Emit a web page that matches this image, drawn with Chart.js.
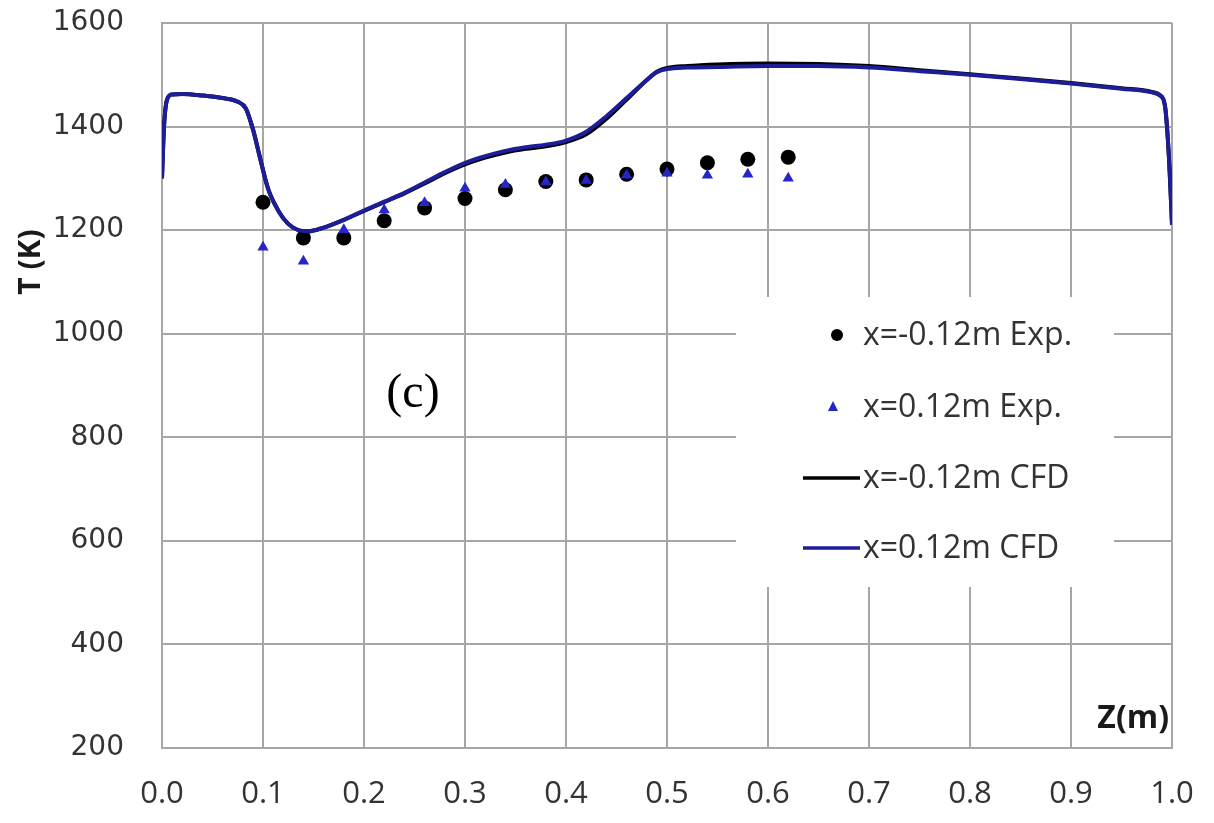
<!DOCTYPE html>
<html>
<head>
<meta charset="utf-8">
<script src="https://cdn.jsdelivr.net/npm/chart.js@4/dist/chart.umd.min.js"></script>
<style>
html,body{margin:0;padding:0;background:#fff;}
#wrap{width:1214px;height:823px;}
</style>
</head>
<body>
<div id="wrap"><canvas id="c" width="1214" height="823"></canvas></div>
<script>
// Experimental data
const expZ = [0.10,0.14,0.18,0.22,0.26,0.30,0.34,0.38,0.42,0.46,0.50,0.54,0.58,0.62];
const expNeg = [1254,1185,1185,1218,1243,1261,1278,1294,1297,1308,1318,1330,1337,1341];
const expPos = [1167,1140,1201,1239,1253,1281,1288,1293,1296,1306,1310,1306,1308,1300];

// CFD curves
const cfdZ = [0.000,0.002,0.005,0.010,0.020,0.040,0.060,0.075,0.083,0.090,0.097,0.105,0.115,0.125,0.135,0.145,0.160,0.180,0.200,0.220,0.240,0.260,0.280,0.300,0.320,0.340,0.360,0.380,0.400,0.420,0.440,0.460,0.480,0.490,0.500,0.520,0.550,0.600,0.650,0.700,0.750,0.800,0.850,0.900,0.950,0.980,0.988,0.993,0.997,1.000];
const cfdNeg = [1300,1400,1452,1462,1463,1460,1455,1448,1435,1395,1340,1280,1238,1212,1200,1198,1205,1220,1237,1254,1271,1290,1310,1327,1340,1350,1357,1362,1370,1385,1415,1452,1490,1506,1513,1517,1520,1522,1521,1517,1509,1501,1493,1484,1474,1467,1461,1441,1340,1212];
const cfdPos = [1300,1400,1452,1462,1463,1460,1455,1448,1435,1395,1340,1280,1238,1212,1200,1198,1205,1220,1238,1255,1272,1292,1312,1330,1343,1353,1360,1365,1373,1390,1420,1455,1490,1505,1511,1514,1515,1517,1517,1514,1507,1500,1492,1483,1473,1466,1460,1440,1340,1210];

const xTicks = [0,0.1,0.2,0.3,0.4,0.5,0.6,0.7,0.8,0.9,1.0];
const yTicks = [200,400,600,800,1000,1200,1400,1600];

const labels = ['x=-0.12m Exp.','x=0.12m Exp.','x=-0.12m CFD','x=0.12m CFD'];

const pts = (xs, ys) => xs.map((x,i)=>({x:x,y:ys[i]}));

const BLUE_LINE = '#1d1d9a';
const BLUE_TRI = '#2626c8';
const GRID = '#a6a6a6';

const legendPlugin = {
  id:'boxLegend',
  beforeDatasetsDraw(chart){
    const ctx = chart.ctx;
    ctx.save();
    ctx.fillStyle = '#fff';
    ctx.fillRect(736, 297, 378, 290);
    const ys = [335, 407, 478, 548];
    ctx.font = '32px "Open Sans"';
    ctx.textBaseline = 'middle';
    ctx.textAlign = 'left';
    ctx.fillStyle = '#333';
    labels.forEach((t,i)=>{ ctx.fillText(t, 863, ys[i]+1); });
    ctx.fillStyle = '#000';
    ctx.beginPath(); ctx.arc(837, ys[0], 6, 0, Math.PI*2); ctx.fill();
    ctx.fillStyle = BLUE_TRI;
    ctx.beginPath(); ctx.moveTo(833, ys[1]-6); ctx.lineTo(838, ys[1]+4); ctx.lineTo(828, ys[1]+4); ctx.closePath(); ctx.fill();
    ctx.lineWidth = 3.5;
    ctx.strokeStyle = '#000';
    ctx.beginPath(); ctx.moveTo(803, ys[2]); ctx.lineTo(860, ys[2]); ctx.stroke();
    ctx.strokeStyle = BLUE_LINE;
    ctx.beginPath(); ctx.moveTo(803, ys[3]); ctx.lineTo(860, ys[3]); ctx.stroke();
    ctx.restore();
  },
  afterDraw(chart){
    const ctx = chart.ctx;
    ctx.save();
    ctx.fillStyle = '#000';
    ctx.font = '48px "Liberation Serif"';
    ctx.textAlign = 'center';
    ctx.textBaseline = 'middle';
    ctx.fillText('(c)', 413, 394);
    ctx.font = 'bold 32px "Open Sans"';
    ctx.textAlign = 'right';
    ctx.fillStyle = '#1a1a1a';
    ctx.fillText('Z(m)', 1169, 719);
    ctx.translate(31, 262);
    ctx.rotate(-Math.PI/2);
    ctx.textAlign = 'center';
    ctx.font = 'bold 30px "Open Sans"';
    ctx.fillText('T (K)', 0, 0);
    ctx.restore();
  }
};

new Chart(document.getElementById('c'), {
  type:'line',
  data:{
    datasets:[
      {label:labels[3], data:pts(cfdZ,cfdPos), borderColor:BLUE_LINE, borderWidth:4, pointRadius:0, tension:0.35, cubicInterpolationMode:'monotone', fill:false, order:0},
      {label:labels[2], data:pts(cfdZ,cfdNeg), borderColor:'#000', borderWidth:4, pointRadius:0, tension:0.35, cubicInterpolationMode:'monotone', fill:false, order:1},
      {label:labels[1], data:pts(expZ,expPos), showLine:false, pointStyle:'triangle', pointRadius:6.5, backgroundColor:BLUE_TRI, borderColor:BLUE_TRI, borderWidth:0, order:2},
      {label:labels[0], data:pts(expZ,expNeg), showLine:false, pointStyle:'circle', pointRadius:7.5, backgroundColor:'#000', borderColor:'#000', borderWidth:0, order:3}
    ]
  },
  options:{
    responsive:false,
    animation:false,
    devicePixelRatio:1,
    layout:{padding:{top:23,right:42,left:0,bottom:0}},
    plugins:{legend:{display:false},tooltip:{enabled:false},title:{display:false}},
    scales:{
      x:{
        type:'linear', min:0, max:1,
        afterFit(s){ s.height = 75; s.paddingLeft = 0; s.paddingRight = 0; },
        afterBuildTicks(s){ s.ticks = xTicks.map(v=>({value:v})); },
        ticks:{ callback:v=>Number(v).toFixed(1), font:{family:'Open Sans', size:31}, color:'#333', padding:28, maxRotation:0, autoSkip:false },
        grid:{ color:GRID, lineWidth:2, drawTicks:false },
        border:{ color:GRID, width:2 }
      },
      y:{
        type:'linear', min:200, max:1600,
        afterFit(s){ s.width = 162; s.paddingTop = 0; s.paddingBottom = 0; },
        afterBuildTicks(s){ s.ticks = yTicks.map(v=>({value:v})); },
        ticks:{ callback:v=>String(v), font:{family:'DejaVu Sans', size:28}, color:'#333', padding:38 },
        grid:{ color:GRID, lineWidth:2, drawTicks:false },
        border:{ color:GRID, width:2 }
      }
    }
  },
  plugins:[legendPlugin]
});
</script>
</body>
</html>
